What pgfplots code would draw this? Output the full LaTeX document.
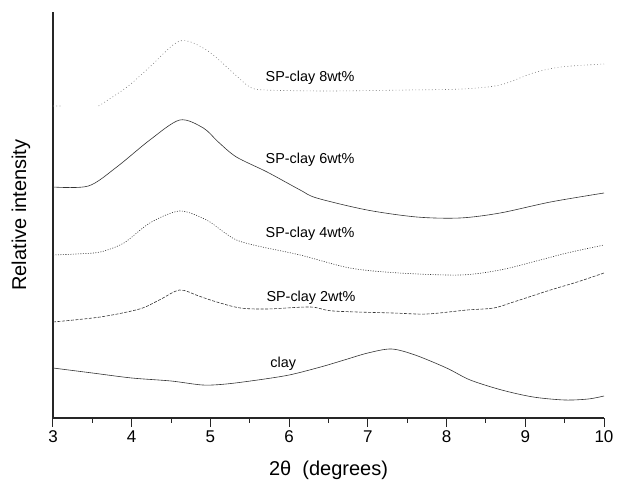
\documentclass[border=0pt]{standalone}
\usepackage{fontspec}
\setmainfont{Liberation Sans}
\usepackage{pgfplots}
\pgfplotsset{compat=1.18}
\begin{document}
\begin{tikzpicture}
\begin{axis}[
  name=ax, at={(0,0)}, anchor=south west,
  scale only axis, width=551pt, height=406pt,
  xmin=3, xmax=10, ymin=0, ymax=406,
  axis lines*=left,
  axis line style={line width=1.2pt, black!85},
  xtick={3,...,10}, minor x tick num=1, ytick=\empty,
  tick align=outside,
  major tick length=9pt, minor tick length=5pt,
  tick style={line width=1pt, black!85},
  /pgf/number format/assume math mode=true,
  ticklabel style={font=\fontsize{17}{19}\selectfont},
  xlabel={2θ\ \ (degrees)},
  ylabel={Relative intensity},
  xlabel style={at={(axis description cs:0.5,-0.128)}, anchor=center, font=\fontsize{20}{22}\selectfont},
  ylabel style={at={(axis description cs:-0.058,0.5)}, anchor=center, font=\fontsize{20}{22}\selectfont},
  unbounded coords=jump,
  every axis plot/.append style={line width=0.6pt, black!80},
]
% clay
\addplot[smooth] coordinates {(3,50) (3.5,45) (4,40) (4.5,37) (4.9,33) (5.2,34) (5.6,38) (6,43) (6.4,51) (6.7,58) (7,65) (7.3,69) (7.6,63) (8,50) (8.3,38) (8.7,28) (9.1,21) (9.5,18) (9.8,19) (10,22)};
% 2wt%
\addplot[smooth, dash pattern=on 3pt off 1.5pt] coordinates {(3,96) (3.6,101) (4.1,109) (4.35,118) (4.61,128) (4.85,122) (5.08,116) (5.38,110) (5.72,109) (6.27,111) (6.56,107) (7.32,105) (7.75,104) (8.26,108) (8.6,110) (8.85,116) (9.32,128) (9.66,136) (10,145)};
% 4wt%
\addplot[smooth, dash pattern=on 1pt off 1.5pt] coordinates {(3,163) (3.3,164) (3.6,166) (3.9,175) (4.23,195) (4.61,207) (4.95,198) (5.15,187) (5.33,178) (5.6,172) (6.14,163) (6.77,150) (7.4,145) (8.17,143) (8.68,148) (9.19,158) (9.53,165) (10,173)};
% 6wt%
\addplot[smooth] coordinates {(3,231) (3.45,232) (3.81,251) (4.23,278) (4.61,298) (4.91,290) (5.1,276) (5.33,261) (5.72,246) (6.14,228) (6.35,220) (6.99,208) (7.62,201) (8.17,200) (8.68,205) (9.32,216) (10,225)};
% 8wt%
\addplot[smooth, black!55, dash pattern=on 0.8pt off 2.5pt] coordinates {(3,312) (3.12,312) (3.3,nan) (3.58,312) (3.94,331) (4.23,351) (4.61,377) (4.95,368) (5.29,345) (5.5,331) (5.7,328) (6.5,327) (7.5,328) (8.2,329) (8.68,333) (9.1,345) (9.45,351) (10,354)};
\node[anchor=west, font=\fontsize{14.4}{16}\selectfont, inner sep=0pt] at (axis cs:5.7,340) {SP-clay 8wt\%};
\node[anchor=west, font=\fontsize{14.4}{16}\selectfont, inner sep=0pt] at (axis cs:5.7,258) {SP-clay 6wt\%};
\node[anchor=west, font=\fontsize{14.4}{16}\selectfont, inner sep=0pt] at (axis cs:5.7,184) {SP-clay 4wt\%};
\node[anchor=west, font=\fontsize{14.4}{16}\selectfont, inner sep=0pt] at (axis cs:5.71,120) {SP-clay 2wt\%};
\node[anchor=west, font=\fontsize{14.4}{16}\selectfont, inner sep=0pt] at (axis cs:5.76,54) {clay};
\end{axis}
\pgfresetboundingbox
\path (-53pt,-64pt) rectangle (566pt,418pt);
\end{tikzpicture}
\end{document}
